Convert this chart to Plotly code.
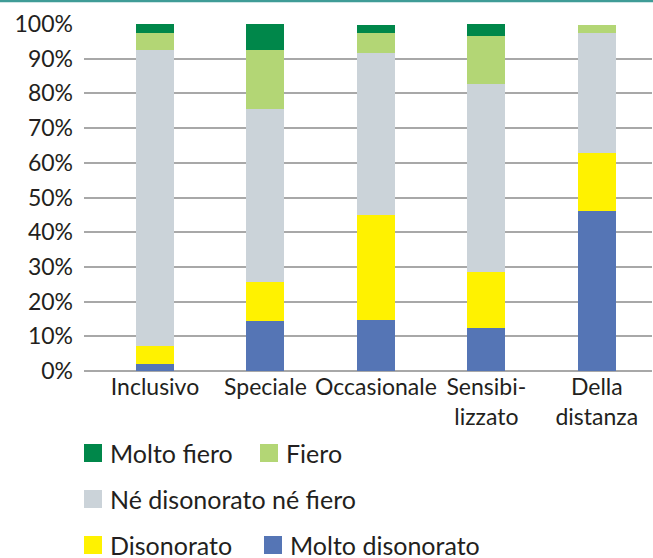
import plotly.graph_objects as go

categories = ["Inclusivo", "Speciale", "Occasionale", "Sensibi-<br>lizzato", "Della<br>distanza"]
molto_disonorato = [2.0, 14.4, 14.7, 12.4, 46.1]
disonorato = [5.3, 11.3, 30.3, 16.1, 16.6]
neutro = [85.2, 49.8, 46.6, 54.3, 34.7]
fiero = [4.9, 17.0, 5.8, 13.7, 2.3]
molto_fiero = [2.6, 7.5, 2.3, 3.5, 0.0]
y_ticks = [0, 10, 20, 30, 40, 50, 60, 70, 80, 90, 100]
y_tick_labels = [f"{v}%" for v in y_ticks]

series = [
    ("Molto disonorato", molto_disonorato, "#5575b5"),
    ("Disonorato", disonorato, "#fff200"),
    ("Né disonorato né fiero", neutro, "#cbd3d9"),
    ("Fiero", fiero, "#b3d675"),
    ("Molto fiero", molto_fiero, "#00874a"),
]

FONT = "Lato"
W, H = 653, 558
L, R, T, B = 84, 1, 24, 187
pw, ph = W - L - R, H - T - B

def px(x):
    return (x - L) / pw

def py(y):
    return (H - B - y) / ph

fig = go.Figure()
for name, vals, col in series:
    fig.add_trace(go.Bar(x=categories, y=vals, name=name, marker=dict(color=col, line=dict(width=0)),
                         width=0.344, showlegend=False, hoverinfo="skip"))

# custom legend layout
legend_items = [
    ("Molto fiero", 84, 453),
    ("Fiero", 260, 453),
    ("Né disonorato né fiero", 84, 499),
    ("Disonorato", 84, 545),
    ("Molto disonorato", 264, 545),
]
colmap = {n: c for n, _, c in series}
shapes = []
annotations = []
s = 18
for name, x0, yc in legend_items:
    shapes.append(dict(type="rect", xref="paper", yref="paper",
                       x0=px(x0), x1=px(x0 + s), y0=py(yc - s / 2), y1=py(yc + s / 2),
                       fillcolor=colmap[name], line=dict(width=0), layer="above"))
    annotations.append(dict(text=name, xref="paper", yref="paper", x=px(x0 + s + 6), y=py(yc),
                            xanchor="left", yanchor="middle", showarrow=False,
                            font=dict(family=FONT, size=25, color="#231f20")))

# top teal rule
shapes.append(dict(type="line", xref="paper", yref="paper", x0=px(0), x1=px(W), y0=py(1), y1=py(1),
                   line=dict(color="#3f9c97", width=2.5)))

fig.update_layout(
    width=W, height=H,
    margin=dict(l=L, r=R, t=T, b=B),
    paper_bgcolor="white", plot_bgcolor="white",
    barmode="stack",
    shapes=shapes,
    annotations=annotations,
    font=dict(family=FONT, size=23, color="#231f20"),
    xaxis=dict(range=[-0.643, 4.5], showgrid=False, showline=False, ticks="",
               tickfont=dict(family=FONT, size=23, color="#231f20"), fixedrange=True),
    yaxis=dict(range=[0, 100], tickvals=y_ticks, ticktext=y_tick_labels, showgrid=True,
               gridcolor="#a8a8a8", gridwidth=1.5, zeroline=True, zerolinecolor="#a8a8a8", zerolinewidth=1.5,
               showline=False, ticks="", ticklabelstandoff=10, fixedrange=True,
               tickfont=dict(family=FONT, size=23, color="#231f20")),
)

fig.write_html("out.html", config={"displayModeBar": False},
               post_script="document.body.style.margin='0px';document.body.style.overflow='hidden';")
